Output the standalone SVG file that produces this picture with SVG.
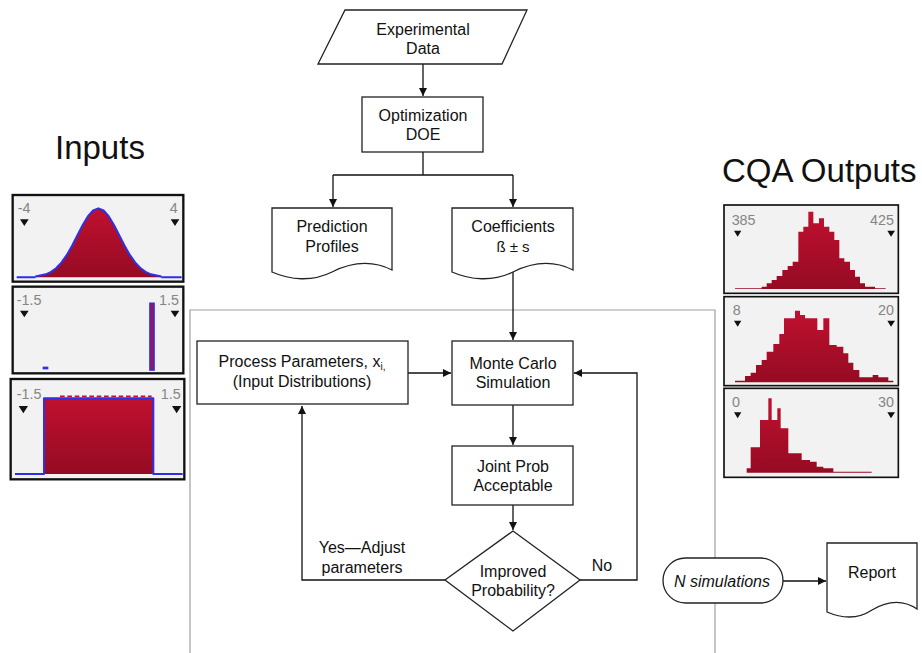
<svg xmlns="http://www.w3.org/2000/svg" width="922" height="653" viewBox="0 0 922 653">
<style>
.t{font-family:"Liberation Sans",Arial,sans-serif;font-size:16px;fill:#111;text-anchor:middle}
.big{font-family:"Liberation Sans",Arial,sans-serif;font-size:33px;fill:#111}
.n{fill:#fff;stroke:#222;stroke-width:1.3}
.c{fill:none;stroke:#111;stroke-width:1.3}
.fr{fill:none;stroke:#a0a0a0;stroke-width:1.2}
.hb{fill:#f2f2f2;stroke:#111}
.hl{font-family:"Liberation Sans",Arial,sans-serif;font-size:43px;fill:#858585}
.tri{fill:#111}
.red{fill:url(#rg)}
.blu{fill:none;stroke:#2f2fe8;stroke-width:6;stroke-linejoin:round}
</style>
<defs>
<marker id="ah" markerWidth="8" markerHeight="8" refX="8" refY="4" orient="auto" markerUnits="userSpaceOnUse">
<path d="M0,0 L8,4 L0,8 Z" fill="#111"/>
</marker>
<linearGradient id="rg" x1="0" y1="0" x2="0" y2="1">
<stop offset="0" stop-color="#c0102f"/>
<stop offset="1" stop-color="#950b23"/>
</linearGradient>
</defs>
<rect width="922" height="653" fill="#fff"/>

<text class="big" x="55" y="159">Inputs</text>
<text class="big" x="722" y="182">CQA Outputs</text>

<!-- grey frame -->
<path class="fr" d="M190,653 V310 H715 V653"/>

<!-- input histograms -->
<g id="inputHistograms" transform="translate(0,190) scale(0.33333)">
<rect class="hb" x="38" y="15" width="512" height="260" stroke-width="7"/>
<path class="red" d="M106,262 L106,259.7 137.5,252.9 153.25,245.5 169,234 184.75,217.2 200.5,194.8 216.25,167.2 232,136.5 247.75,105.8 263.5,79.3 279.25,61.4 295,55 310.75,61.4 326.5,79.3 342.25,105.8 358,136.5 373.75,167.2 389.5,194.8 405.25,217.2 421,234 436.75,245.5 452.5,252.9 484,259.7 484,262 Z"/>
<path class="blu" d="M50,262 H106 M106,259.7 L137.5,252.9 153.25,245.5 169,234 184.75,217.2 200.5,194.8 216.25,167.2 232,136.5 247.75,105.8 263.5,79.3 279.25,61.4 295,55 310.75,61.4 326.5,79.3 342.25,105.8 358,136.5 373.75,167.2 389.5,194.8 405.25,217.2 421,234 436.75,245.5 452.5,252.9 484,259.7 M484,262 H545"/>
<text class="hl" x="53" y="70">-4</text>
<text class="hl" x="533" y="70" text-anchor="end">4</text>
<path class="tri" d="M60,88 H86 L73,108 Z M512,88 H538 L525,108 Z"/>

<rect class="hb" x="38" y="290" width="512" height="260" stroke-width="7"/>
<rect x="128" y="530" width="17" height="8" fill="#2f2fe8"/>
<rect x="450" y="340" width="12" height="200" fill="#b5112b" stroke="#2f2fe8" stroke-width="5"/>
<text class="hl" x="50" y="345">-1.5</text>
<text class="hl" x="537" y="345" text-anchor="end">1.5</text>
<path class="tri" d="M60,362 H86 L73,382 Z M512,362 H538 L525,382 Z"/>

<rect class="hb" x="32" y="567" width="521" height="301" stroke-width="7"/>
<rect class="red" x="132" y="625" width="328" height="227"/>
<path d="M180,619 H455" stroke="#c8102e" stroke-width="5" stroke-dasharray="14,8"/>
<path class="blu" d="M45,852 H132 V625 H460 V852 H548"/>
<text class="hl" x="50" y="628">-1.5</text>
<text class="hl" x="542" y="628" text-anchor="end">1.5</text>
<path class="tri" d="M56,648 H84 L70,670 Z M516,648 H544 L530,670 Z"/>
</g>

<!-- output histograms -->
<g id="outputHistograms" transform="translate(720,190) scale(0.33333)">
<rect class="hb" x="12" y="45" width="523" height="265" stroke-width="5"/>
<path class="red" d="M45,297 V295 H125 V290 H140 V280 H155 V270 H170 V258 H187 V240 H203 V228 H218 V215 H235 V125 H250 V110 H265 V65 H280 V100 H297 V85 H312 V110 H328 V125 H343 V150 H358 V205 H373 V215 H390 V240 H405 V260 H420 V280 H435 V290 H465 V295 H497 V297 Z"/>
<text class="hl" x="35" y="105">385</text>
<text class="hl" x="522" y="105" text-anchor="end">425</text>
<path class="tri" d="M42,122 H64 L53,140 Z M502,122 H525 L513,140 Z"/>

<rect class="hb" x="12" y="320" width="523" height="267" stroke-width="5"/>
<path class="red" d="M45,577 V572 H75 V558 H92 V548 H108 V525 H125 V510 H140 V485 H160 V462 H178 V432 H192 V385 H225 V362 H240 V375 H255 V385 H292 V420 H310 V385 H328 V465 H350 V470 H370 V490 H385 V518 H400 V540 H418 V562 H458 V555 H475 V562 H505 V572 H520 V577 Z"/>
<text class="hl" x="38" y="375">8</text>
<text class="hl" x="522" y="375" text-anchor="end">20</text>
<path class="tri" d="M42,392 H64 L53,410 Z M502,392 H525 L513,410 Z"/>

<rect class="hb" x="12" y="595" width="523" height="267" stroke-width="5"/>
<path class="red" d="M80,848 V835 H92 V772 H120 V690 H145 V625 H155 V690 H172 V655 H182 V715 H205 V790 H245 V810 H270 V815 H290 V830 H310 V835 H340 V845 H455 V848 Z"/>
<text class="hl" x="36" y="650">0</text>
<text class="hl" x="522" y="650" text-anchor="end">30</text>
<path class="tri" d="M42,667 H64 L53,685 Z M502,667 H525 L513,685 Z"/>
</g>

<!-- connectors -->
<g id="connectors">
<path class="c" d="M423,64 V96" marker-end="url(#ah)"/>
<path class="c" d="M423,152 V175 M333,175 H513"/>
<path class="c" d="M333,175 V207" marker-end="url(#ah)"/>
<path class="c" d="M513,175 V207" marker-end="url(#ah)"/>
<path class="c" d="M513,272 V340" marker-end="url(#ah)"/>
<path class="c" d="M408,373 H451" marker-end="url(#ah)"/>
<path class="c" d="M513,405 V445" marker-end="url(#ah)"/>
<path class="c" d="M513,505 V530" marker-end="url(#ah)"/>
<path class="c" d="M445,580 H302 V406" marker-end="url(#ah)"/>
<path class="c" d="M580,580 H637 V373 H574" marker-end="url(#ah)"/>
<path class="c" d="M783,581 H826" marker-end="url(#ah)"/>
<text class="t" x="362" y="553">Yes—Adjust</text>
<text class="t" x="362" y="573">parameters</text>
<text class="t" x="602" y="571">No</text>
</g>

<!-- nodes -->
<g id="experimentalData">
<path class="n" d="M345,10 H527 L502,64 H318 Z"/>
<text class="t" x="423" y="35">Experimental</text>
<text class="t" x="423" y="54">Data</text>
</g>
<g id="optimization">
<rect class="n" x="362" y="97" width="121" height="55"/>
<text class="t" x="423" y="121">Optimization</text>
<text class="t" x="423" y="140">DOE</text>
</g>
<g id="predictionProfiles">
<path class="n" transform="translate(272,208)" d="M0,0 H120 V62 C100,52 80,54 60,64 C40,74 18,72 0,64 Z"/>
<text class="t" x="332" y="232">Prediction</text>
<text class="t" x="332" y="252">Profiles</text>
</g>
<g id="coefficients">
<path class="n" transform="translate(452,208)" d="M0,0 H121 V62 C101,52 81,54 61,64 C41,74 18,72 0,64 Z"/>
<text class="t" x="513" y="232">Coefficients</text>
<text class="t" x="513" y="252" style="font-size:15px">ß ± s</text>
</g>
<g id="processParameters">
<rect class="n" x="197" y="341" width="211" height="63"/>
<text class="t" x="302" y="367">Process Parameters, x<tspan font-size="10" dy="3">i,</tspan></text>
<text class="t" x="302" y="387">(Input Distributions)</text>
</g>
<g id="monteCarlo">
<rect class="n" x="452" y="341" width="121" height="64"/>
<text class="t" x="513" y="369">Monte Carlo</text>
<text class="t" x="513" y="388">Simulation</text>
</g>
<g id="jointProb">
<rect class="n" x="452" y="446" width="121" height="59"/>
<text class="t" x="513" y="472">Joint Prob</text>
<text class="t" x="513" y="491">Acceptable</text>
</g>
<g id="improvedProbability">
<path class="n" d="M513,531 L580,580 L513,631 L445,580 Z"/>
<text class="t" x="513" y="577">Improved</text>
<text class="t" x="513" y="596">Probability?</text>
</g>
<g id="nSimulations">
<rect class="n" x="663" y="558" width="120" height="45" rx="22.5"/>
<text class="t" x="722" y="587" font-style="italic">N simulations</text>
</g>
<g id="report">
<path class="n" transform="translate(827,543)" d="M0,0 H90 V66 C75,56 60,58 45,67 C30,77 14,75 0,69 Z"/>
<text class="t" x="872" y="578">Report</text>
</g>
</svg>
